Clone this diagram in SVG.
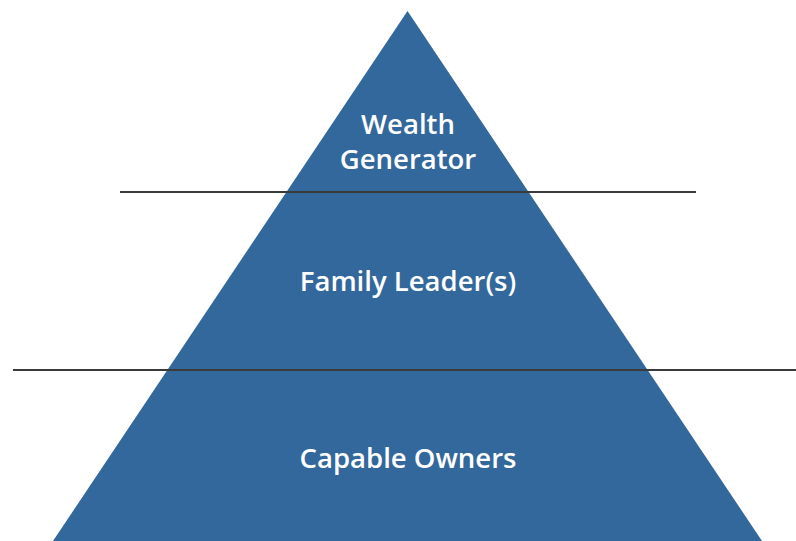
<svg xmlns="http://www.w3.org/2000/svg" width="796" height="541" viewBox="0 0 796 541">
<style>
.tier{fill:#33689c}
.lbl{fill:#ffffff;font-family:"Open Sans","Liberation Sans",sans-serif;font-size:27.5px;font-weight:600;text-anchor:middle}
.sep{stroke:#3a3a3a;stroke-width:2}
</style>
<rect width="796" height="541" fill="#ffffff"/>
<g id="pyramid">
<polygon class="tier" points="407.5,11 53,541 762,541"/>
</g>
<g id="wealth-generator">
<text class="lbl" x="408" y="134">Wealth</text>
<text class="lbl" x="408" y="169">Generator</text>
</g>
<g id="family-leaders">
<text class="lbl" x="408" y="291">Family Leader(s)</text>
</g>
<g id="capable-owners">
<text class="lbl" x="408" y="468">Capable Owners</text>
</g>
<g id="connectors">
<line class="sep" x1="120" y1="192" x2="696" y2="192"/>
<line class="sep" x1="13" y1="370" x2="796" y2="370"/>
</g>
</svg>
